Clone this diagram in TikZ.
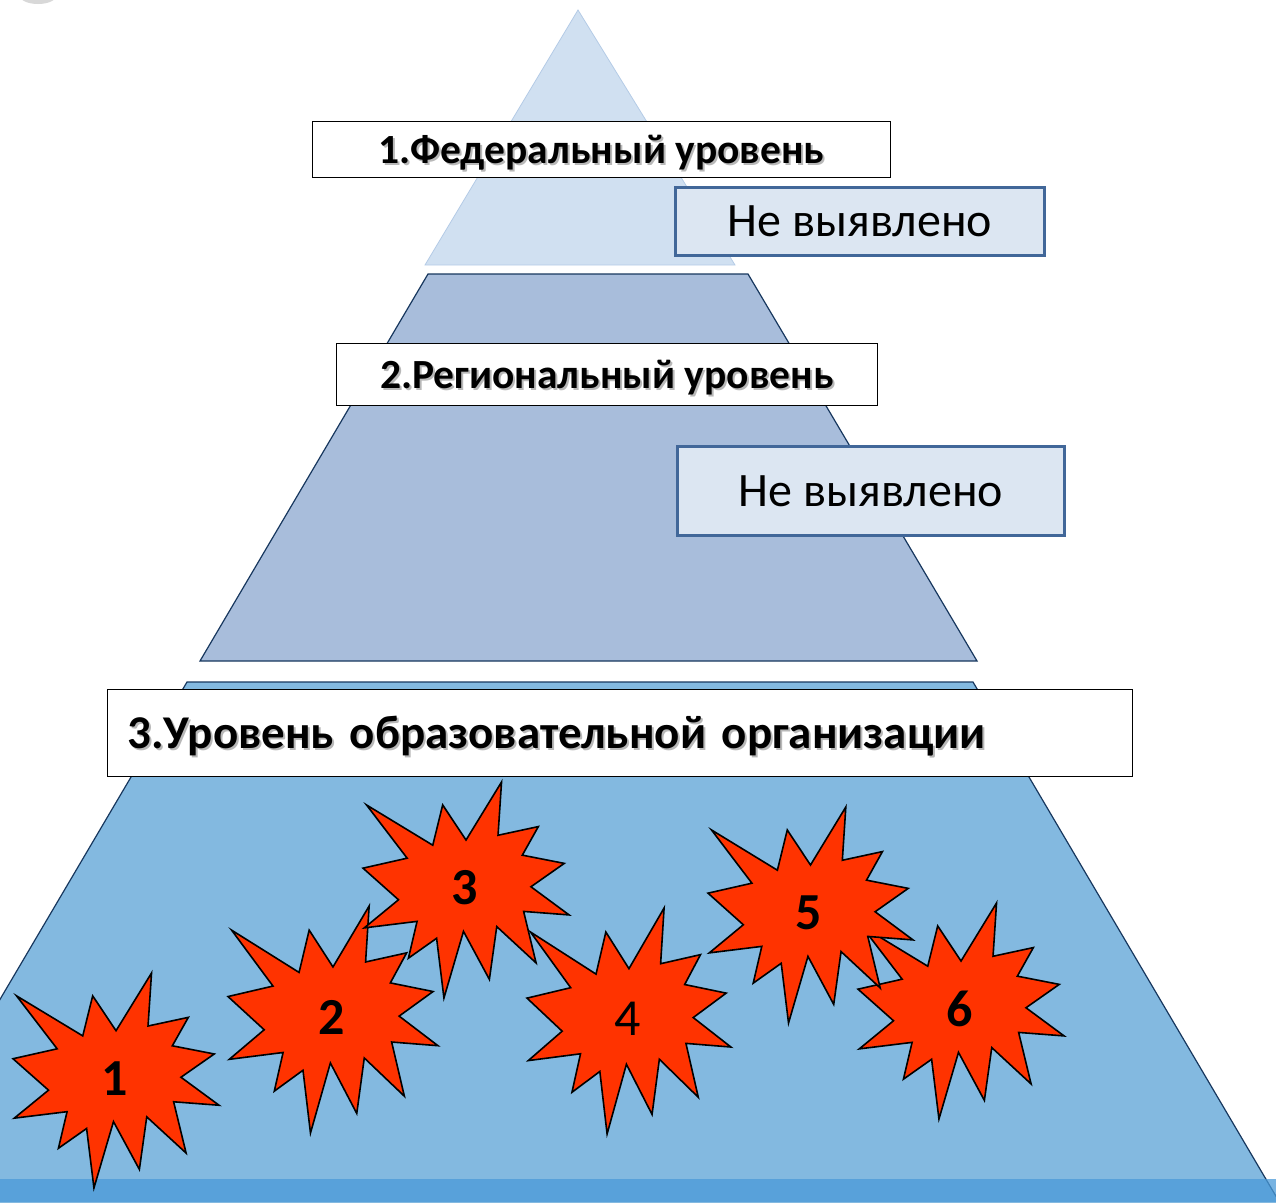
\documentclass[tikz,border=0pt]{standalone}
\usepackage{fontspec}
\setmainfont{Carlito}
\usetikzlibrary{positioning}

\definecolor{toptri}{RGB}{208,224,241}
\definecolor{toptriline}{RGB}{180,203,230}
\definecolor{midtrap}{RGB}{168,189,219}
\definecolor{lowtrap}{RGB}{131,185,224}
\definecolor{trapline}{RGB}{23,55,94}
\definecolor{stripblue}{RGB}{74,154,216}
\definecolor{boomred}{RGB}{255,51,0}
\definecolor{nvfill}{RGB}{220,230,242}
\definecolor{nvline}{RGB}{65,103,153}

% text with a soft drop shadow, centred on its capitals
\newcommand\shadowed[1]{\raisebox{-0.34em}[0pt][0pt]{\rlap{\hspace{2pt}\raisebox{-2pt}{\textcolor{black!28}{#1}}}#1}}

\tikzset{
  level/.style={draw=trapline, line width=1.2pt},
  levelbox/.style={draw=black, line width=0.8pt, fill=white, inner sep=0pt,
    font=\fontsize{41.5}{41.5}\selectfont\bfseries},
  nvbox/.style={draw=nvline, line width=3pt, fill=nvfill, inner sep=0pt,
    font=\fontsize{48}{48}\selectfont},
  boomline/.style={draw=black, line width=1.6pt, fill=boomred, line join=miter},
  boomnum/.style={font=\fontsize{52}{52}\selectfont\bfseries, inner sep=0pt},
  pics/boom/.style={code={
    \draw[boomline] (108,58) -- (145.22,0) -- (141.55,53.25) -- (183.80,44.57)
      -- (167.02,73.15) -- (210.97,81.37) -- (176.07,104.75) -- (216,132.90)
      -- (168.37,129.42) -- (181.45,180.95) -- (140.20,144.57) -- (132.47,197.37)
      -- (105.32,149.35) -- (84.85,216) -- (77.15,156.27) -- (47.62,176.17)
      -- (56.67,139.37) -- (1.35,145.87) -- (37.22,117.75) -- (0,86.15)
      -- (46.27,76.17) -- (3.70,22.95) -- (73.12,63.20) -- (83.52,22.95) -- cycle;
    \node[boomnum] (-num) at (106.6,106) {#1};
  }}
}

\begin{document}
\begin{tikzpicture}[x=1pt, y=-1pt]
  \useasboundingbox (0,0) rectangle (1276,1202);

  % shadow left over in the corner
  \fill[black!30, opacity=0.5] (38,-4) ellipse (18 and 8);

  % the three levels of the pyramid
  \filldraw[fill=toptri, draw=toptriline, line width=0.8pt]
    (578,10) -- (735,265) -- (425,265) -- cycle;
  \filldraw[level, fill=midtrap] (428,274) -- (748,274) -- (977,661) -- (200,661) -- cycle;
  \filldraw[level, fill=lowtrap] (187,682) -- (973,682) -- (1290,1220) -- (-130,1220) -- cycle;
  \fill[stripblue, opacity=0.75] (0,1179) rectangle (1276,1202);

  % level captions
  \node[levelbox, minimum width=578pt, minimum height=56pt, anchor=north west]
    (fedbox) at (312,121) {\shadowed{1.Федеральный уровень}};
  \node[levelbox, minimum width=541pt, minimum height=62pt, anchor=north west]
    (regbox) at (336,343) {\shadowed{2.Региональный уровень}};
  \node[levelbox, text width=985pt, inner xsep=20pt, minimum height=87pt, align=left,
    font=\fontsize{47}{47}\selectfont\bfseries, anchor=north west]
    (orgbox) at (107,689) {\shadowed{3.Уровень образовательной организации}};

  \node[nvbox, minimum width=369pt, minimum height=68pt, anchor=north west]
    (fednv) at (674,186) {Не выявлено};
  \node[nvbox, minimum width=387pt, minimum height=89pt, anchor=north west]
    (regnv) at (676,445) {Не выявлено};

  % bursts, back to front
  \pic[xscale=0.954, yscale=0.995] (b1) at (13,973) {boom=1};
  \pic[xscale=0.972, yscale=1.051] (b2) at (228,906) {boom=2};
  \pic[xscale=0.944, yscale=1.046] (b4) at (527,908) {boom={\mdseries 4}};
  \pic[xscale=0.954, yscale=1.0] (b6) at (858,903) {boom=6};
  \pic[xscale=0.954, yscale=1.0] (b3) at (363,782) {boom=3};
  \pic[xscale=0.949, yscale=1.0] (b5) at (708,807) {boom=5};
\end{tikzpicture}
\end{document}
